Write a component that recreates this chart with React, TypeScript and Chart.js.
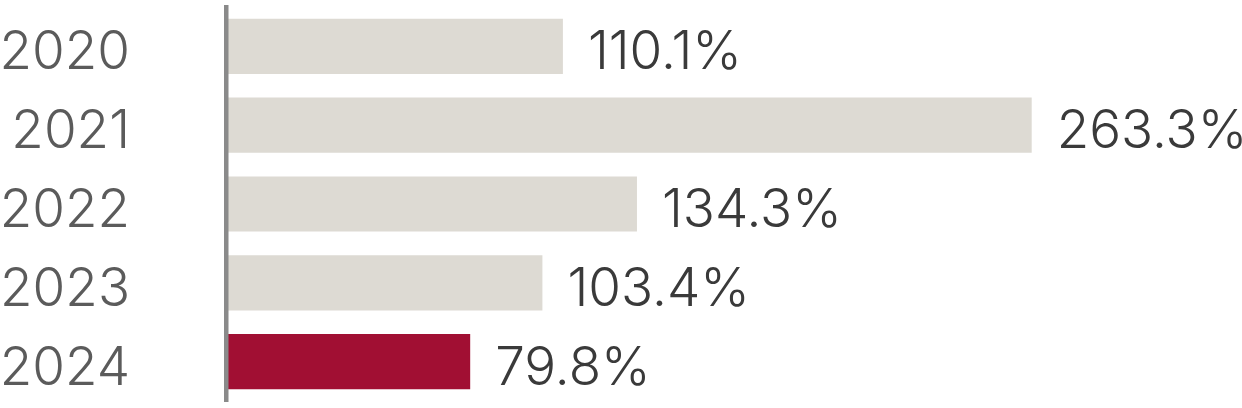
import React, { useEffect, useRef } from "react";
import { Chart, registerables } from "chart.js";

Chart.register(...registerables);

const categories = ["2020", "2021", "2022", "2023", "2024"];
const values = [110.1, 263.3, 134.3, 103.4, 79.8];
const valueLabels = ["110.1%", "263.3%", "134.3%", "103.4%", "79.8%"];
const barColors = ["#dddad3", "#dddad3", "#dddad3", "#dddad3", "#a10f33"];

const FONT = "Inter, 'Open Sans', sans-serif";

const valueLabelPlugin = {
  id: "valueLabels",
  afterDatasetsDraw(chart: any) {
    const ctx = chart.ctx;
    const meta = chart.getDatasetMeta(0);
    ctx.save();
    ctx.font = `300 53px ${FONT}`;
    ctx.fillStyle = "#3a3a3a";
    ctx.textAlign = "left";
    ctx.textBaseline = "middle";
    meta.data.forEach((bar: any, i: number) => {
      ctx.fillText(valueLabels[i], bar.x + 25, bar.y + 7);
    });
    ctx.restore();
  },
};

export default function App() {
  const ref = useRef<HTMLCanvasElement | null>(null);
  useEffect(() => {
    if (!ref.current) return;
    const chart = new Chart(ref.current, {
      type: "bar",
      data: {
        labels: categories,
        datasets: [
          {
            data: values,
            backgroundColor: barColors,
            borderWidth: 0,
            categoryPercentage: 1,
            barPercentage: 0.7,
          },
        ],
      },
      options: {
        indexAxis: "y",
        animation: false,
        responsive: false,
        maintainAspectRatio: false,
        layout: { padding: { top: 7, bottom: 7, left: 0, right: 98 } },
        plugins: { legend: { display: false }, tooltip: { enabled: false } },
        scales: {
          x: { display: false, min: 0, max: 300 },
          y: {
            grid: { display: false },
            border: { display: true, color: "#8a8a8a", width: 4.5, z: 1 },
            ticks: {
              color: "#5b5b5b",
              font: { family: FONT, size: 53, weight: "300" },
              padding: 88,
              labelOffset: 7,
            },
            afterFit(scale: any) {
              scale.width = 226;
              scale.paddingTop = 0;
              scale.paddingBottom = 0;
            },
          },
        },
      },
      plugins: [valueLabelPlugin],
    });
    return () => chart.destroy();
  }, []);
  return (
    <div style={{ position: "fixed", left: 0, top: 0, width: 1242, height: 408, background: "#fff" }}>
      <canvas ref={ref} width={1242} height={408} style={{ width: 1242, height: 408 }} />
    </div>
  );
}
